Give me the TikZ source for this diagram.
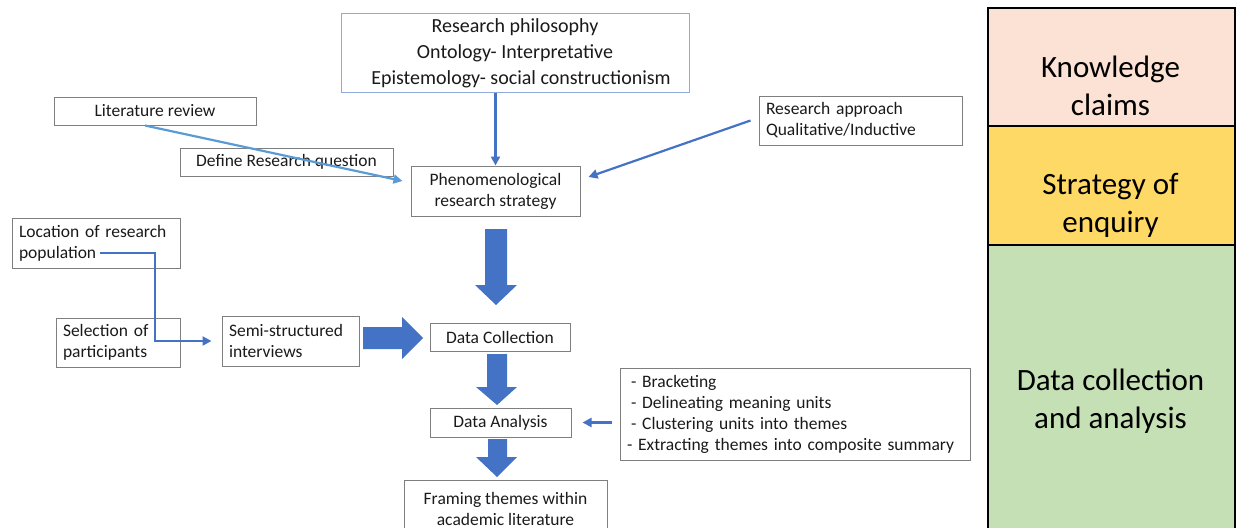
\documentclass[tikz,border=0pt]{standalone}
\usepackage{fontspec}
\setmainfont{Carlito}
\usetikzlibrary{arrows.meta}

\definecolor{arrowblue}{HTML}{4472C4}
\definecolor{lightarrow}{HTML}{5B9BD5}
\definecolor{boxgray}{HTML}{7F7F7F}
\definecolor{philborder}{HTML}{8FAADC}
\definecolor{inktext}{HTML}{1A1A1A}
\definecolor{claimsfill}{HTML}{FBE2D5}
\definecolor{strategyfill}{HTML}{FFD966}
\definecolor{datafill}{HTML}{C5E0B4}

\begin{document}
\begin{tikzpicture}[x=1pt,y=-1pt,
  box/.style={draw=boxgray, line width=1pt, inner sep=0pt, text=inktext,
    font=\fontsize{17.5}{21}\selectfont, align=center},
  sized/.style 2 args={minimum width=#1, minimum height=#2},
  lbox/.style={box, align=left, inner xsep=7pt},
  conn/.style={draw=arrowblue, line width=2.2pt, -{Triangle[length=9pt,width=9pt]}},
  litconn/.style={conn, draw=lightarrow},
  block/.style={fill=arrowblue},
  band/.style={draw=black, line width=2pt, inner sep=0pt, anchor=north west},
  bandtext/.style={font=\fontsize{31}{38}\selectfont, align=center, text=black}]

\useasboundingbox (0,0) rectangle (1241,527);

% ---- boxes of the flow ----
\node[box, sized={348}{78}, draw=philborder, font=\fontsize{20}{26}\selectfont] (phil) at (515,53)
  {Research philosophy\\Ontology- Interpretative\\\hspace*{12pt}Epistemology- social constructionism};
\node[box, sized={202}{28}] (lit) at (155,111) {Literature review};
\node[box, sized={213}{28}] (drq) at (286.5,162) {Define Research question};
\node[box, sized={169}{50}] (phen) at (495.5,191) {Phenomenological\\research strategy};
\node[lbox, sized={203}{49}, text width=189pt] (appr) at (860.5,120.5)
  {Research approach\\Qualitative/Inductive};
\node[lbox, sized={168}{50}, text width=154pt] (loc) at (96,243)
  {Location of research\\population};
\node[lbox, sized={124}{49}, text width=110pt] (sel) at (118,342.5)
  {Selection of\\participants};
\node[lbox, sized={137}{50}, text width=123pt] (semi) at (290.5,341)
  {Semi-structured\\interviews};
\node[box, sized={140}{28}] (dc) at (500,337) {Data Collection};
\node[box, sized={141}{29}] (da) at (500.5,422.5) {Data Analysis};
\node[lbox, sized={350}{92}, text width=336pt, inner xsep=7pt] (brk) at (795,414)
  {\hspace*{4pt}- Bracketing\\\hspace*{4pt}- Delineating meaning units\\\hspace*{4pt}- Clustering units into themes\\- Extracting themes into composite summary};
\node[box, sized={203}{56}, anchor=north] (frm) at (505.5,480)
  {Framing themes within\\academic literature};

% ---- thin connectors ----
\draw[conn] (phil.south -| phen.north) -- (phen.north);
\draw[litconn] ([xshift=-10pt]lit.south) -- ([xshift=-8pt,yshift=10pt]phen.west);
\draw[conn] ([xshift=-8pt]appr.west) -- ([xshift=8pt,yshift=14pt]phen.east);
\coordinate (locout) at ([xshift=4pt,yshift=-10pt]loc.center);
\draw[conn] (locout) -- ++(55,0) |- ([xshift=-10pt]semi.west);
\draw[conn] ([xshift=-8pt]brk.west |- da.east) -- ([xshift=11pt]da.east);

% ---- block arrows ----
\fill[block] (485,229) -- (507,229) -- (507,285) -- (517,285) -- (496,305) -- (475,285) -- (485,285) -- cycle;
\fill[block] (363,327) -- (402,327) -- (402,317) -- (423,338) -- (402,359) -- (402,349) -- (363,349) -- cycle;
\fill[block] (487,354) -- (507,354) -- (507,387) -- (517,387) -- (497,405) -- (476,387) -- (487,387) -- cycle;
\fill[block] (488,439) -- (507,439) -- (507,457) -- (517,457) -- (497,477) -- (476,457) -- (488,457) -- cycle;

% ---- side bands ----
\node[band, fill=claimsfill, sized={247}{118}] (claims) at (987,7) {};
\node[band, fill=strategyfill, sized={247}{119}] (strategy) at (987,125) {};
\node[band, fill=datafill, sized={247}{320}] (datab) at (987,244) {};
\node[bandtext] (claimst) at (1110.5,86) {Knowledge\\claims};
\node[bandtext] (strategyt) at (1110.5,205) {Strategy of\\enquiry};
\node[bandtext] (datat) at (1110.5,401) {Data collection\\and analysis};

\end{tikzpicture}
\end{document}
